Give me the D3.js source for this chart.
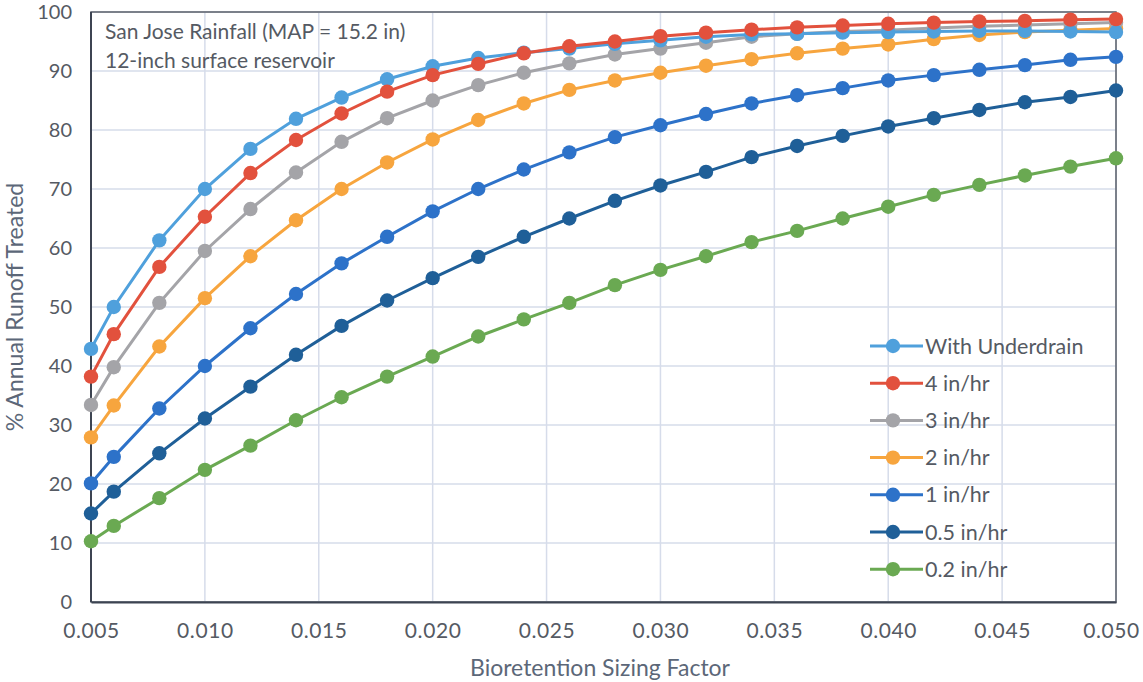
<!DOCTYPE html>
<html><head><meta charset="utf-8">
<script src="https://cdn.jsdelivr.net/npm/d3@7"></script>
<style>
html,body{margin:0;padding:0;background:#fff;}
svg{display:block;font-family:Lato,"Open Sans",sans-serif;}
</style></head>
<body><svg id="chart" width="1143" height="682"></svg>
<script>
const sizingFactors = [0.005,0.006,0.008,0.010,0.012,0.014,0.016,0.018,0.020,0.022,0.024,0.026,0.028,0.030,0.032,0.034,0.036,0.038,0.040,0.042,0.044,0.046,0.048,0.050];
const withUnderdrain = [42.9,50.0,61.3,70.0,76.8,81.9,85.5,88.6,90.8,92.2,93.1,93.8,94.6,95.2,95.8,96.2,96.3,96.5,96.6,96.7,96.8,96.8,96.7,96.6];
const rate4 = [38.2,45.4,56.8,65.3,72.7,78.3,82.8,86.5,89.3,91.2,93.0,94.2,95.0,95.9,96.5,97.0,97.4,97.7,98.0,98.2,98.4,98.5,98.7,98.8];
const rate3 = [33.4,39.8,50.7,59.5,66.6,72.8,78.0,82.0,85.0,87.6,89.7,91.3,92.8,93.8,94.8,95.8,96.3,96.7,96.9,97.3,97.6,97.8,98.0,98.2];
const rate2 = [27.9,33.3,43.3,51.5,58.6,64.7,70.0,74.5,78.4,81.7,84.5,86.8,88.4,89.7,90.9,92.0,93.0,93.8,94.5,95.4,96.1,96.6,96.9,97.2];
const rate1 = [20.1,24.6,32.8,40.0,46.4,52.2,57.4,61.9,66.2,70.0,73.3,76.2,78.8,80.8,82.7,84.5,85.9,87.1,88.4,89.3,90.2,91.0,91.9,92.4];
const rate05 = [15.0,18.7,25.2,31.1,36.5,41.9,46.8,51.1,54.9,58.5,61.9,65.0,68.0,70.6,72.9,75.4,77.3,79.0,80.6,82.0,83.4,84.7,85.6,86.7];
const rate02 = [10.3,12.9,17.6,22.4,26.5,30.8,34.7,38.2,41.6,45.0,47.9,50.7,53.7,56.3,58.6,61.0,62.9,65.0,67.0,69.0,70.7,72.3,73.8,75.2];
const seriesNames = ["With Underdrain","4 in/hr","3 in/hr","2 in/hr","1 in/hr","0.5 in/hr","0.2 in/hr"];
const seriesValues = [withUnderdrain, rate4, rate3, rate2, rate1, rate05, rate02];
const seriesColors = ["#4fa0dc","#e2513d","#a4a4a8","#f7a53e","#2d72c9","#1f5f98","#6aa952"];
const xTicks = [0.005,0.010,0.015,0.020,0.025,0.030,0.035,0.040,0.045,0.050];
const yTicks = [0,10,20,30,40,50,60,70,80,90,100];
const noteLines = ["San Jose Rainfall (MAP = 15.2 in)","12-inch surface reservoir"];
const xTitle = "Bioretention Sizing Factor";
const yTitle = "% Annual Runoff Treated";

const svg = d3.select("#chart");
const L = 91, R = 1116, T = 12, B = 602;
const x = d3.scaleLinear().domain([0.005,0.050]).range([L,R]);
const y = d3.scaleLinear().domain([0,100]).range([B,T]);

// gridlines
const grid = svg.append("g");
grid.selectAll("line.h").data(yTicks).join("line")
  .attr("x1",L).attr("x2",R).attr("y1",d=>y(d)).attr("y2",d=>y(d))
  .attr("stroke","#d6dcea").attr("stroke-width",1.5);
grid.selectAll("line.v").data(xTicks).join("line")
  .attr("y1",T).attr("y2",B).attr("x1",d=>x(d)).attr("x2",d=>x(d))
  .attr("stroke","#d6dcea").attr("stroke-width",1.5);

// frame
svg.append("rect").attr("x",L).attr("y",T).attr("width",R-L).attr("height",B-T)
  .attr("fill","none").attr("stroke","#5a5f6a").attr("stroke-width",1.5);

// axes
const xAxis = svg.append("g").attr("transform",`translate(0,${B})`)
  .call(d3.axisBottom(x).tickValues(xTicks).tickFormat(d3.format(".3f")).tickSize(0).tickPadding(21));
const yAxis = svg.append("g").attr("transform",`translate(${L},0)`)
  .call(d3.axisLeft(y).tickValues(yTicks).tickSize(0).tickPadding(19));
[xAxis,yAxis].forEach(a=>{
  a.select(".domain").attr("stroke","#3d4452").attr("stroke-width",2);
  a.selectAll("text").attr("font-family","Lato,sans-serif").attr("font-size",20).attr("fill","#555a63");
});
xAxis.selectAll("text").attr("font-size",21).attr("letter-spacing",0.6);
xAxis.selectAll(".tick").filter(d=>d===0.050).select("text").attr("dx",-5);
yAxis.select(".domain").remove();
svg.append("line").attr("x1",L).attr("x2",L).attr("y1",T).attr("y2",B).attr("stroke","#3d4452").attr("stroke-width",2);

// titles
svg.append("text").attr("x",600).attr("y",676).attr("text-anchor","middle")
  .attr("font-size",23).attr("fill","#5c6778").text(xTitle);
svg.append("text").attr("transform",`translate(23,307) rotate(-90)`).attr("text-anchor","middle")
  .attr("font-size",23).attr("fill","#5c6778").text(yTitle);

// note
svg.selectAll("text.note").data(noteLines).join("text").attr("class","note")
  .attr("x",105).attr("y",(d,i)=>39+i*29).attr("font-size",21).attr("fill","#555a63").text(d=>d);

// series (draw bottom-most first so top curves overlay)
const line = d3.line().x((d,i)=>x(sizingFactors[i])).y(d=>y(d));
const order = [6,5,4,3,2,0,1];
order.forEach(k=>{
  const g = svg.append("g");
  g.append("path").datum(seriesValues[k]).attr("d",line).attr("fill","none")
    .attr("stroke",seriesColors[k]).attr("stroke-width",3);
  g.selectAll("circle").data(seriesValues[k]).join("circle")
    .attr("cx",(d,i)=>x(sizingFactors[i])).attr("cy",d=>y(d)).attr("r",7.2)
    .attr("fill",seriesColors[k]);
});

// legend
const leg = svg.append("g").attr("transform","translate(870,346)");
seriesNames.forEach((n,i)=>{
  const r = leg.append("g").attr("transform",`translate(0,${i*37.2})`);
  r.append("line").attr("x1",0).attr("x2",53).attr("stroke",seriesColors[i]).attr("stroke-width",3);
  r.append("circle").attr("cx",23).attr("r",7.2).attr("fill",seriesColors[i]);
  r.append("text").attr("x",55).attr("y",7.5).attr("font-size",21.5).attr("fill","#555a63").text(n);
});
</script></body></html>
